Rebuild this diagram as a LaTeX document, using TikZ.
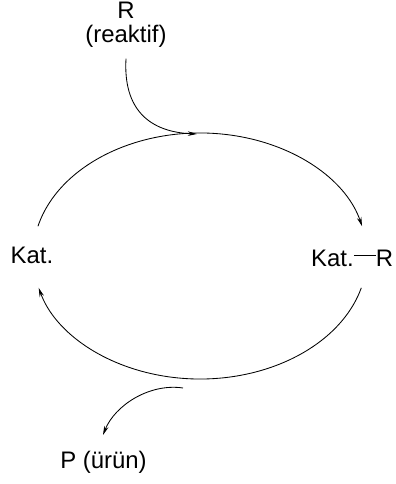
\documentclass[tikz,border=0pt]{standalone}
\usepackage{fontspec}
\setmainfont{Liberation Sans}
\usepackage{tikz}
\usetikzlibrary{arrows.meta, positioning}

\begin{document}
\begin{tikzpicture}[
    x=0.025cm, y=0.025cm,
    every node/.style={font=\fontsize{17}{20}\selectfont},
    species/.style={inner sep=0pt, outer sep=0pt},
    arrow/.style={-{Stealth[length=6.5pt, width=3.2pt]}, line width=0.6pt},
    bond/.style={line width=0.6pt}
]
\useasboundingbox (0,0) rectangle (395,484);

% --- Species ---
\node[species] (kat) at (32,229) {Kat.};
\node[species] (katr) at (332.5,226) {Kat.};
\node[species, right=0.55cm of katr] (rgroup) {R};
\node[species] (r) at (126,473.5) {R};
\node[species, below=0.17cm of r] (reaktif) {(reaktif)};
\node[species] (product) at (103.5,21.5) {P (ürün)};

\draw[bond] ([yshift=2pt]katr.east) -- ([yshift=2pt]rgroup.west);

% --- Catalytic cycle ---
\coordinate (o) at (200,228);
\path (o) ++(166:167 and 123) coordinate (upstart);
\path (o) ++(-15:167 and 123) coordinate (lowstart);
\draw[arrow] (upstart) arc[start angle=166, end angle=14, x radius=167, y radius=123];
\draw[arrow] (lowstart) arc[start angle=-15, end angle=-165, x radius=167, y radius=123];

% --- In / out ---
\coordinate[below=0.27cm of reaktif] (rin);
\coordinate (rtip) at (197,350);
\draw[arrow] (rin) .. controls (123,374) and (150,352) .. (rtip);

\coordinate (pout) at (183,96);
\coordinate (ptip) at (103,49);
\draw[arrow] (pout) .. controls (150,101) and (115,79) .. (ptip);

\end{tikzpicture}
\end{document}
